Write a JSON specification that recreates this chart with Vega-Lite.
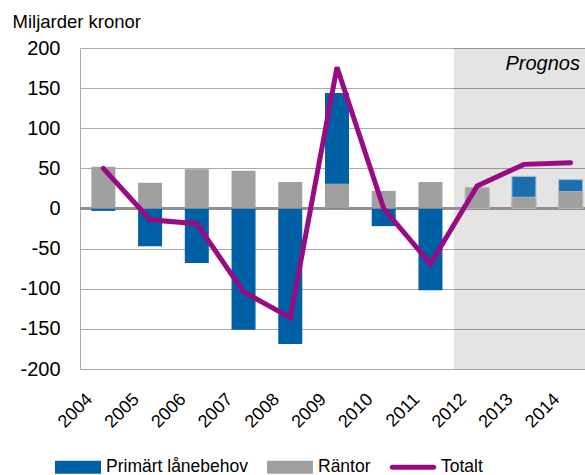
{
  "$schema": "https://vega.github.io/schema/vega-lite/v6.json",
  "width": 514,
  "height": 321,
  "autosize": "none",
  "padding": {"left": 80, "top": 48, "right": 0, "bottom": 106},
  "background": "white",
  "config": {"view": {"stroke": null}, "font": "Liberation Sans"},
  "datasets": {
    "main": [
      {"year": "2004", "serie": "Primärt lånebehov", "value": -3},
      {"year": "2005", "serie": "Primärt lånebehov", "value": -47},
      {"year": "2006", "serie": "Primärt lånebehov", "value": -68},
      {"year": "2007", "serie": "Primärt lånebehov", "value": -151},
      {"year": "2008", "serie": "Primärt lånebehov", "value": -169},
      {"year": "2009", "serie": "Primärt lånebehov", "value": 144},
      {"year": "2010", "serie": "Primärt lånebehov", "value": -22},
      {"year": "2011", "serie": "Primärt lånebehov", "value": -102},
      {"year": "2012", "serie": "Primärt lånebehov", "value": 2},
      {"year": "2013", "serie": "Primärt lånebehov", "value": 40},
      {"year": "2014", "serie": "Primärt lånebehov", "value": 36},
      {"year": "2004", "serie": "Räntor", "value": 52},
      {"year": "2005", "serie": "Räntor", "value": 32},
      {"year": "2006", "serie": "Räntor", "value": 49},
      {"year": "2007", "serie": "Räntor", "value": 47},
      {"year": "2008", "serie": "Räntor", "value": 33},
      {"year": "2009", "serie": "Räntor", "value": 31},
      {"year": "2010", "serie": "Räntor", "value": 22},
      {"year": "2011", "serie": "Räntor", "value": 33},
      {"year": "2012", "serie": "Räntor", "value": 26},
      {"year": "2013", "serie": "Räntor", "value": 14},
      {"year": "2014", "serie": "Räntor", "value": 21},
      {"year": "2004", "serie": "Totalt", "value": 50},
      {"year": "2005", "serie": "Totalt", "value": -14},
      {"year": "2006", "serie": "Totalt", "value": -19},
      {"year": "2007", "serie": "Totalt", "value": -104},
      {"year": "2008", "serie": "Totalt", "value": -136},
      {"year": "2009", "serie": "Totalt", "value": 176},
      {"year": "2010", "serie": "Totalt", "value": 0},
      {"year": "2011", "serie": "Totalt", "value": -69},
      {"year": "2012", "serie": "Totalt", "value": 28},
      {"year": "2013", "serie": "Totalt", "value": 55},
      {"year": "2014", "serie": "Totalt", "value": 57}
    ],
    "prognos": [{"year": "2012"}, {"year": "2013"}, {"year": "2014"}],
    "label": [{"year": "2014", "text": "Prognos"}]
  },
  "resolve": {"scale": {"x": "independent"}, "axis": {"x": "independent"}},
  "layer": [
    {
      "encoding": {
        "x": {
          "field": "year",
          "type": "nominal",
          "scale": {
            "domain": ["2004", "2005", "2006", "2007", "2008", "2009", "2010", "2011", "2012", "2013", "2014"],
            "paddingInner": 0,
            "paddingOuter": 0
          },
          "axis": null
        }
      },
      "layer": [
        {
          "data": {"name": "prognos"},
          "mark": {"type": "rect", "color": "black", "opacity": 0.105},
          "encoding": {
            "y": {
              "datum": 200,
              "type": "quantitative",
              "scale": {"domain": [-200, 200], "nice": false},
              "axis": {
                "values": [-200, -150, -100, -50, 0, 50, 100, 150, 200],
                "grid": true,
                "gridColor": "#aaaaaa",
                "gridWidth": 1,
                "ticks": false,
                "domainColor": "#aaaaaa",
                "labelFontSize": 20,
                "labelColor": "black",
                "labelPadding": 20,
                "labelExpr": "datum.value + ''",
                "title": "Miljarder kronor",
                "titleAngle": 0,
                "titleAlign": "left",
                "titleBaseline": "alphabetic",
                "titleX": -68,
                "titleY": -21,
                "titleFontSize": 18.5,
                "titleFontWeight": "normal",
                "titleColor": "black"
              }
            },
            "y2": {"datum": -200}
          }
        },
        {
          "data": {"name": "main"},
          "mark": {"type": "rule", "color": "#909090", "strokeWidth": 1.5},
          "encoding": {"y": {"datum": 0, "type": "quantitative"}, "x": {"value": 0}, "x2": {"value": 514}}
        },
        {
          "data": {"name": "main"},
          "transform": [{"filter": "datum.serie === 'Primärt lånebehov'"}],
          "mark": {"type": "bar", "width": 24},
          "encoding": {
            "y": {"field": "value", "type": "quantitative", "stack": null},
            "color": {
              "field": "serie",
              "type": "nominal",
              "scale": {
                "domain": ["Primärt lånebehov", "Räntor", "Totalt"],
                "range": ["#0060a6", "#a0a0a0", "#990b82"]
              },
              "legend": {
                "orient": "none",
                "direction": "horizontal",
                "legendX": -25,
                "legendY": 396,
                "title": null,
                "symbolSize": 2116,
                "symbolType": "M-1,-0.28H1V0.28H-1Z",
                "symbolStrokeWidth": 0,
                "labelFontSize": 17.5,
                "labelColor": "black",
                "labelOffset": 5,
                "columnPadding": 18,
                "encode": {
                  "symbols": {
                    "update": {
                      "shape": {"signal": "datum.value === 'Totalt' ? 'M-0.9,-0.11H0.9A0.11,0.11,0,0,1,0.9,0.11H-0.9A0.11,0.11,0,0,1,-0.9,-0.11Z' : 'M-1,-0.28H1V0.28H-1Z'"},
                      "fill": {"scale": "color", "field": "value"},
                      "strokeWidth": {"value": 0},
                      "opacity": {"value": 1},
                      "fillOpacity": {"value": 1}
                    }
                  }
                }
              }
            }
          }
        },
        {
          "data": {"name": "main"},
          "transform": [{"filter": "datum.serie === 'Primärt lånebehov' && datum.year >= '2012'"}],
          "mark": {"type": "bar", "width": 24, "fill": "white", "fillOpacity": 0.1, "stroke": "#a8c0d6", "strokeWidth": 1},
          "encoding": {
            "y": {"field": "value", "type": "quantitative", "stack": null}
          }
        },
        {
          "data": {"name": "main"},
          "transform": [{"filter": "datum.serie === 'Räntor'"}],
          "mark": {"type": "bar", "width": 24},
          "encoding": {
            "y": {"field": "value", "type": "quantitative", "stack": null},
            "color": {"field": "serie", "type": "nominal"}
          }
        },
        {
          "data": {"name": "main"},
          "transform": [{"filter": "datum.serie === 'Räntor' && datum.year >= '2012'"}],
          "mark": {"type": "bar", "width": 24, "fill": "transparent", "stroke": "#b4b4b4", "strokeWidth": 1},
          "encoding": {
            "y": {"field": "value", "type": "quantitative", "stack": null}
          }
        },
        {
          "data": {"name": "main"},
          "transform": [{"filter": "datum.serie === 'Totalt'"}],
          "mark": {"type": "line", "strokeWidth": 5, "strokeCap": "round"},
          "encoding": {
            "y": {"field": "value", "type": "quantitative"},
            "color": {"field": "serie", "type": "nominal"}
          }
        },
        {
          "data": {"name": "label"},
          "mark": {"type": "text", "align": "right", "baseline": "alphabetic", "fontSize": 20, "fontStyle": "italic", "color": "black", "dx": -14, "dy": 22},
          "encoding": {
            "x": {"field": "year", "type": "nominal", "bandPosition": 1},
            "y": {"datum": 200, "type": "quantitative"},
            "text": {"field": "text"}
          }
        }
      ]
    },
    {
      "data": {"name": "main"},
      "transform": [{"filter": "datum.serie === 'Totalt'"}],
      "mark": {"type": "text", "opacity": 0},
      "encoding": {
        "x": {
          "field": "year",
          "type": "nominal",
          "scale": {
            "domain": ["2004", "2005", "2006", "2007", "2008", "2009", "2010", "2011", "2012", "2013", "2014"],
            "paddingInner": 0,
            "paddingOuter": 0.665,
            "align": 0
          },
          "axis": {
            "title": null,
            "labelAngle": -45,
            "labelFontSize": 18,
            "labelColor": "black",
            "ticks": false,
            "domain": false,
            "grid": false,
            "labelPadding": 21,
            "labelOffset": 3
          }
        },
        "text": {"value": ""}
      }
    }
  ]
}
